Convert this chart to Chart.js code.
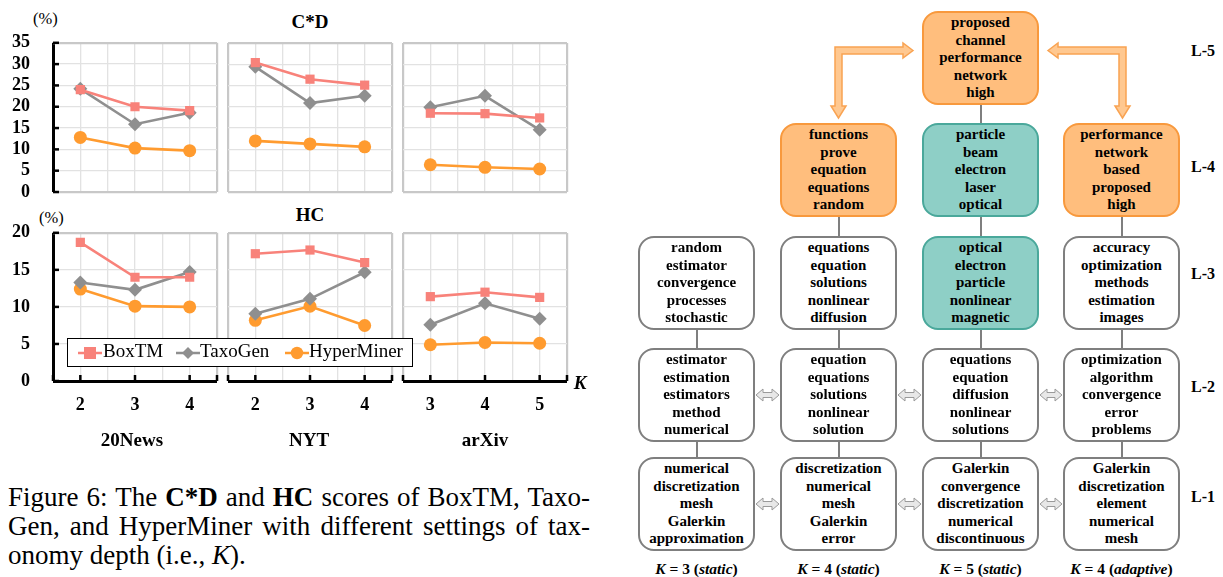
<!DOCTYPE html>
<html>
<head>
<meta charset="utf-8">
<script src="https://cdn.jsdelivr.net/npm/chart.js@4.4.1/dist/chart.umd.min.js"></script>
<style>
body { margin: 0; width: 1223px; height: 577px; position: relative; overflow: hidden; background: #fff;
       font-family: "Liberation Serif", "Times New Roman", serif; color: #000; }
.abs { position: absolute; white-space: nowrap; }
.ctr { transform: translate(-50%, -50%); }
.b { font-weight: bold; }
canvas.pan { position: absolute; }
.box { position: absolute; width: 117px; height: 94px; box-sizing: border-box; border: 2.5px solid #7f7f7f;
       border-radius: 16px; background: #fff; display: flex; align-items: center; justify-content: center;
       text-align: center; font-weight: bold; font-size: 15px; line-height: 17.5px; z-index: 2; }
.box.org { background: #ffbe7d; border-color: #f8993d; }
.box.teal { background: #8ecfc6; border-color: #4aa89b; }
.vline { position: absolute; width: 2.5px; background: #7f7f7f; z-index: 1; }
.cap div { height: 29px; line-height: 29px; text-align: justify; white-space: nowrap; }
.cap .j { text-align-last: justify; }
</style>
</head>
<body>

<!-- left: small multiples -->
<div class="abs" style="left:33px;top:9px;font-size:16.5px">(%)</div>
<div class="abs ctr b" style="left:310px;top:22px;font-size:19px">C*D</div>
<div class="abs" style="left:39px;top:208px;font-size:16.5px">(%)</div>
<div class="abs ctr b" style="left:310px;top:215px;font-size:19px">HC</div>

<canvas id="cd0" class="pan"></canvas>
<canvas id="cd1" class="pan"></canvas>
<canvas id="cd2" class="pan"></canvas>
<canvas id="hc0" class="pan"></canvas>
<canvas id="hc1" class="pan"></canvas>
<canvas id="hc2" class="pan"></canvas>

<div class="abs ctr b" style="left:580px;top:383px;font-size:19px;font-style:italic">K</div>
<div class="abs ctr b" style="left:132px;top:440px;font-size:19px">20News</div>
<div class="abs ctr b" style="left:309px;top:440px;font-size:19px">NYT</div>
<div class="abs ctr b" style="left:485px;top:440px;font-size:19px">arXiv</div>

<div id="legend" class="abs" style="left:67px;top:338px;width:346px;height:29px;border:1.5px solid #000;background:#fff;box-sizing:border-box;font-size:19px;z-index:5">
  <svg class="abs" style="left:10px;top:6px" width="24" height="16"><line x1="0" y1="8" x2="24" y2="8" stroke="#f8827a" stroke-width="2.5"/><rect x="6" y="2" width="12" height="12" fill="#f8827a"/></svg>
  <span class="abs" style="left:35px;top:1px">BoxTM</span>
  <svg class="abs" style="left:108px;top:6px" width="24" height="16"><line x1="0" y1="8" x2="24" y2="8" stroke="#8f8f8f" stroke-width="2.5"/><polygon points="12,2 18,8 12,14 6,8" fill="#8f8f8f"/></svg>
  <span class="abs" style="left:132px;top:1px">TaxoGen</span>
  <svg class="abs" style="left:217px;top:6px" width="24" height="16"><line x1="0" y1="8" x2="24" y2="8" stroke="#ff9b2f" stroke-width="2.5"/><circle cx="12" cy="8" r="6.2" fill="#ff9b2f"/></svg>
  <span class="abs" style="left:241px;top:1px">HyperMiner</span>
</div>

<div class="abs cap" style="left:8px;top:483px;width:582px;font-size:27px">
  <div class="j">Figure 6: The <b>C*D</b> and <b>HC</b> scores of BoxTM, Taxo-</div>
  <div class="j">Gen, and HyperMiner with different settings of tax-</div>
  <div>onomy depth (i.e., <i>K</i>).</div>
</div>

<!-- right: topic tree -->
<div id="tree"></div>
<svg class="abs" style="left:0;top:0;z-index:3" width="1223" height="577">
  <polygon points="913,50.5 903,43 903,47 835,47 835,106 831,106 838.5,118 846,106 842,106 842,54 903,54 903,58"
           fill="#ffc890" stroke="#f9a352" stroke-width="1.5"/>
  <polygon points="1048,50.5 1058,43 1058,47 1126,47 1126,106 1130,106 1122.5,118 1115,106 1119,106 1119,54 1058,54 1058,58"
           fill="#ffc890" stroke="#f9a352" stroke-width="1.5"/>
  <g id="dbl" fill="#e8e8e8" stroke="#9a9a9a" stroke-width="1"></g>
</svg>

<script>
// ---- chart data ----
const seriesNames = ['BoxTM', 'TaxoGen', 'HyperMiner'];
const seriesColors = ['#f8827a', '#8f8f8f', '#ff9b2f'];
const seriesMarks = ['rect', 'rectRot', 'circle'];

const kNews = [2, 3, 4];
const kNyt = [2, 3, 4];
const kArxiv = [3, 4, 5];

// C*D scores (%) per dataset: 20News, NYT, arXiv
const cdBoxTM = [[24.0, 20.0, 19.1], [30.4, 26.5, 25.1], [18.5, 18.4, 17.4]];
const cdTaxoGen = [[24.2, 15.9, 18.6], [29.4, 20.9, 22.6], [19.9, 22.6, 14.6]];
const cdHyperMiner = [[12.8, 10.3, 9.7], [12.0, 11.3, 10.6], [6.4, 5.8, 5.4]];

// HC scores (%)
const hcBoxTM = [[18.7, 14.0, 14.0], [17.2, 17.7, 16.0], [11.4, 12.0, 11.3]];
const hcTaxoGen = [[13.3, 12.3, 14.7], [9.1, 11.1, 14.7], [7.6, 10.5, 8.4]];
const hcHyperMiner = [[12.4, 10.1, 10.0], [8.2, 10.1, 7.5], [4.9, 5.2, 5.1]];

const cdMax = 35, hcMax = 20, yStep = 5;

// ===== inward tick marks on the black axes =====
const innerTicks = {
    id: 'innerTicks',
    beforeDatasetsDraw(chart, args, o) {
        const { ctx, chartArea: a, scales: { x, y } } = chart;
        ctx.save();
        ctx.strokeStyle = '#000';
        ctx.lineWidth = 2.5;
        if (o.left) {
            y.ticks.forEach(t => {
                const py = y.getPixelForValue(t.value);
                ctx.beginPath(); ctx.moveTo(a.left, py); ctx.lineTo(a.left + 6, py); ctx.stroke();
            });
        }
        if (o.bottom) {
            x.ticks.forEach(t => {
                if (!Number.isInteger(t.value) && t.value !== x.min && t.value !== x.max) return;
                const px = x.getPixelForValue(t.value);
                ctx.beginPath(); ctx.moveTo(px, a.bottom); ctx.lineTo(px, a.bottom - 6); ctx.stroke();
            });
        }
        ctx.restore();
    }
};

const near = (a, b) => Math.abs(a - b) < 1e-6;
const AL = 50, AT = 14, AR = 14, AB = 50, AREA_W = 164;

function makePanel(id, areaLeft, areaTop, areaH, ks, rows, yMax, first, bottomRow) {
    const el = document.getElementById(id);
    const w = AREA_W + AL + AR, h = areaH + AT + AB;
    el.width = w; el.height = h;
    const xMin = ks[0] - 0.5, xMax = ks[ks.length - 1] + 0.5;
    const font = { family: '"Liberation Serif", serif', size: 18, weight: 'bold' };

    const chart = new Chart(el, {
        type: 'line',
        data: {
            datasets: seriesNames.map((name, i) => ({
                label: name,
                data: ks.map((k, j) => ({ x: k, y: rows[i][j] })),
                borderColor: seriesColors[i],
                backgroundColor: seriesColors[i],
                pointBackgroundColor: seriesColors[i],
                pointBorderWidth: 0,
                pointStyle: seriesMarks[i],
                pointRadius: i === 1 ? 7 : 6.5,
                borderWidth: 2.6
            }))
        },
        options: {
            responsive: false,
            maintainAspectRatio: false,
            animation: false,
            events: [],
            layout: { padding: { top: AT, right: AR, left: 0, bottom: 0 } },
            plugins: { legend: { display: false }, tooltip: { enabled: false }, innerTicks: { left: first, bottom: bottomRow } },
            scales: {
                x: {
                    type: 'linear', min: xMin, max: xMax,
                    border: { display: false },
                    grid: {
                        drawTicks: false,
                        color: c => near(c.tick.value, xMin) ? (first ? '#000' : '#c8c8c8')
                            : near(c.tick.value, xMax) ? '#c8c8c8' : '#e2e2e2',
                        lineWidth: c => near(c.tick.value, xMin) ? (first ? 3 : 2.2)
                            : near(c.tick.value, xMax) ? 2.2 : 1.3
                    },
                    ticks: {
                        display: bottomRow, stepSize: 0.5, autoSkip: false, maxRotation: 0,
                        padding: 14, color: '#000', font,
                        callback: v => ks.includes(v) ? String(v) : ''
                    },
                    afterFit: s => { s.height = AB; }
                },
                y: {
                    min: 0, max: yMax,
                    border: { display: false },
                    grid: {
                        drawTicks: false,
                        color: c => c.tick.value === 0 ? (bottomRow ? '#000' : '#c8c8c8')
                            : c.tick.value === yMax ? '#c8c8c8' : '#e2e2e2',
                        lineWidth: c => c.tick.value === 0 ? (bottomRow ? 3 : 2.2)
                            : c.tick.value === yMax ? 2.2 : 1.3
                    },
                    ticks: { display: first, stepSize: yStep, autoSkip: false, padding: 23, color: '#000', font },
                    afterFit: s => { s.width = AL; }
                }
            }
        },
        plugins: [innerTicks]
    });

    // grow the canvas if the layout ate into the plot area, so all plots share the same size
    const a = chart.chartArea;
    const extraH = Math.round(areaH - (a.bottom - a.top));
    const extraW = Math.round(AREA_W - (a.right - a.left));
    if (extraH || extraW) chart.resize(w + extraW, h + extraH);
    el.style.left = (areaLeft - chart.chartArea.left) + 'px';
    el.style.top = (areaTop - chart.chartArea.top) + 'px';
}

const panelLefts = [53, 228, 403];
const kSets = [kNews, kNyt, kArxiv];
for (let d = 0; d < 3; d++) {
    makePanel('cd' + d, panelLefts[d], 43, 149, kSets[d],
        [cdBoxTM[d], cdTaxoGen[d], cdHyperMiner[d]], cdMax, d === 0, false);
    makePanel('hc' + d, panelLefts[d], 233, 148, kSets[d],
        [hcBoxTM[d], hcTaxoGen[d], hcHyperMiner[d]], hcMax, d === 0, true);
}

// ===== topic tree (diagram, not chart data) =====
const colLefts = [638, 780, 922, 1063];
const rowTops = [11, 123, 236, 348, 457];   // L-5 .. L-1
const rowNames = ['L-5', 'L-4', 'L-3', 'L-2', 'L-1'];
const rowLabelY = [52, 168, 275, 388, 498];
const boxes = [
    [0, 2, 'org', ['proposed', 'channel', 'performance', 'network', 'high']],
    [1, 1, 'org', ['functions', 'prove', 'equation', 'equations', 'random']],
    [1, 2, 'teal', ['particle', 'beam', 'electron', 'laser', 'optical']],
    [1, 3, 'org', ['performance', 'network', 'based', 'proposed', 'high']],
    [2, 0, '', ['random', 'estimator', 'convergence', 'processes', 'stochastic']],
    [2, 1, '', ['equations', 'equation', 'solutions', 'nonlinear', 'diffusion']],
    [2, 2, 'teal', ['optical', 'electron', 'particle', 'nonlinear', 'magnetic']],
    [2, 3, '', ['accuracy', 'optimization', 'methods', 'estimation', 'images']],
    [3, 0, '', ['estimator', 'estimation', 'estimators', 'method', 'numerical']],
    [3, 1, '', ['equation', 'equations', 'solutions', 'nonlinear', 'solution']],
    [3, 2, '', ['equations', 'equation', 'diffusion', 'nonlinear', 'solutions']],
    [3, 3, '', ['optimization', 'algorithm', 'convergence', 'error', 'problems']],
    [4, 0, '', ['numerical', 'discretization', 'mesh', 'Galerkin', 'approximation']],
    [4, 1, '', ['discretization', 'numerical', 'mesh', 'Galerkin', 'error']],
    [4, 2, '', ['Galerkin', 'convergence', 'discretization', 'numerical', 'discontinuous']],
    [4, 3, '', ['Galerkin', 'discretization', 'element', 'numerical', 'mesh']]
];
const colTopRow = [2, 1, 0, 1];
const kLabels = [['3', 'static'], ['4', 'static'], ['5', 'static'], ['4', 'adaptive']];

const tree = document.getElementById('tree');
let html = '';
boxes.forEach(([r, c, cls, words]) => {
    html += `<div class="box ${cls}" style="left:${colLefts[c]}px;top:${rowTops[r]}px"><div>${words.join('<br>')}</div></div>`;
});
colLefts.forEach((l, c) => {
    for (let r = colTopRow[c]; r < 4; r++) {
        const top = rowTops[r] + 94, bot = rowTops[r + 1];
        html += `<div class="vline" style="left:${l + 57.5}px;top:${top}px;height:${bot - top}px"></div>`;
    }
    html += `<div class="abs ctr b" style="left:${l + 58.5}px;top:569px;font-size:15.5px"><i>K</i> = ${kLabels[c][0]} (<i>${kLabels[c][1]}</i>)</div>`;
});
rowNames.forEach((n, r) => {
    html += `<div class="abs b" style="left:1191px;top:${rowLabelY[r] - 10}px;font-size:16px">${n}</div>`;
});
tree.innerHTML = html;

// double-headed arrows between neighbouring columns, rows L-2 and L-1
let arrows = '';
[[756, 779], [898, 921], [1040, 1062]].forEach(([x0, x1]) => {
    [395, 504].forEach(cy => {
        arrows += `<polygon points="${x0},${cy} ${x0 + 7},${cy - 6} ${x0 + 7},${cy - 2.5} ${x1 - 7},${cy - 2.5} ${x1 - 7},${cy - 6} ${x1},${cy} ${x1 - 7},${cy + 6} ${x1 - 7},${cy + 2.5} ${x0 + 7},${cy + 2.5} ${x0 + 7},${cy + 6}"/>`;
    });
});
document.getElementById('dbl').innerHTML = arrows;
</script>
</body>
</html>
